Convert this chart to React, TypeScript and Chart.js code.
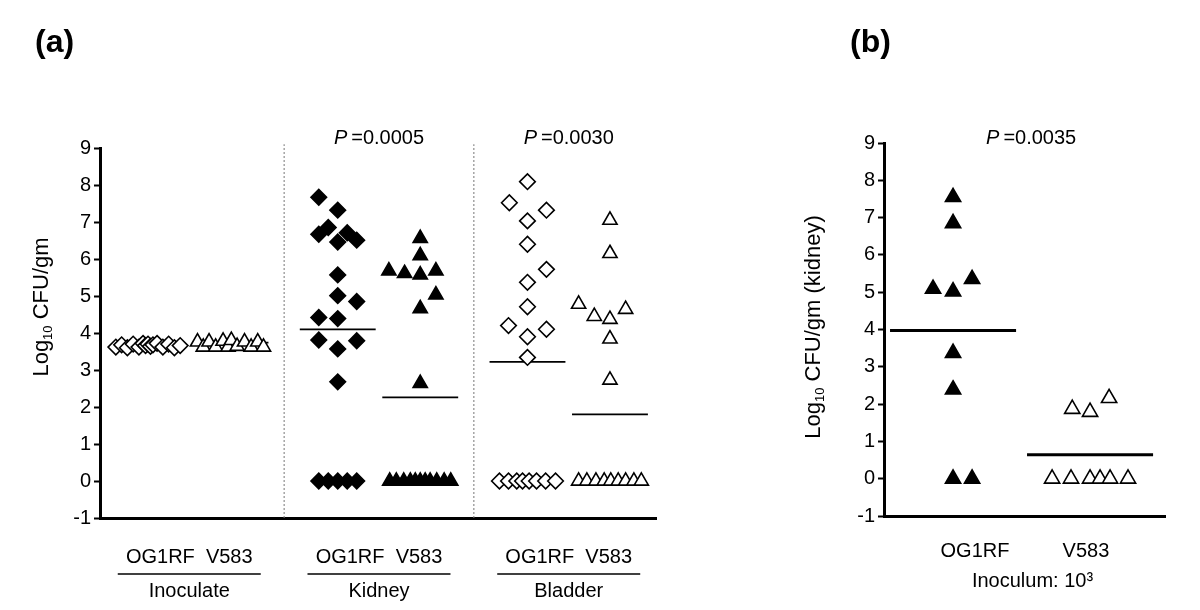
import React, { useEffect, useRef } from 'react';
import { Chart, registerables } from 'chart.js';

Chart.register(...registerables);

const FONT = '"Liberation Sans", Arial, Helvetica, sans-serif';

// ---------------- Panel (a) data ----------------
const groupNames = ['Inoculate', 'Kidney', 'Bladder'];
const strainNames = ['OG1RF', 'V583'];
const groupPValues = ['', '0.0005', '0.0030'];
const yTickValues = [-1, 0, 1, 2, 3, 4, 5, 6, 7, 8, 9];

const inoculateOG1RF = [3.62, 3.68, 3.6, 3.7, 3.62, 3.72, 3.66, 3.7, 3.64, 3.68, 3.72, 3.62, 3.7, 3.6, 3.66];
const inoculateOG1RFJitter = [-0.39, -0.32, -0.25, -0.18, -0.11, -0.06, -0.03, 0, 0.03, 0.06, 0.11, 0.18, 0.25, 0.32, 0.39];

const inoculateV583 = [3.76, 3.62, 3.76, 3.62, 3.78, 3.62, 3.8, 3.64, 3.76, 3.62, 3.76, 3.62];
const inoculateV583Jitter = [-0.4, -0.33, -0.26, -0.18, -0.09, -0.03, 0.01, 0.08, 0.17, 0.25, 0.33, 0.4];

const kidneyOG1RF = [7.67, 7.32, 6.85, 6.67, 6.71, 6.46, 6.51, 5.57, 5.01, 4.85, 4.42, 4.39, 3.81, 3.79, 3.57, 2.68, 0, 0, 0, 0, 0];
const kidneyOG1RFJitter = [-0.23, 0, -0.115, -0.23, 0.115, 0, 0.23, 0, 0, 0.23, -0.23, 0, -0.23, 0.23, 0, 0, -0.23, -0.115, 0, 0.115, 0.23];

const kidneyV583 = [6.56, 6.09, 5.68, 5.61, 5.57, 5.68, 5.03, 4.66, 2.64, 0, 0, 0, 0, 0, 0, 0, 0, 0, 0, 0];
const kidneyV583Jitter = [0, 0, -0.38, -0.19, 0, 0.19, 0.19, 0, 0, -0.37, -0.29, -0.2, -0.12, -0.06, 0, 0.06, 0.12, 0.2, 0.29, 0.37];

const bladderOG1RF = [8.09, 7.52, 7.32, 7.03, 6.4, 5.72, 5.37, 4.71, 4.2, 4.1, 3.9, 3.34, 0, 0, 0, 0, 0, 0, 0, 0];
const bladderOG1RFJitter = [0, -0.22, 0.23, 0, 0, 0.23, 0, 0, -0.23, 0.23, 0, 0, -0.34, -0.23, -0.13, -0.06, 0.02, 0.11, 0.22, 0.34];

const bladderV583 = [7.05, 6.15, 4.78, 4.45, 4.37, 4.64, 3.84, 2.73, 0, 0, 0, 0, 0, 0, 0, 0, 0];
const bladderV583Jitter = [0, 0, -0.38, -0.19, 0, 0.19, 0, 0, -0.38, -0.28, -0.17, -0.07, 0.01, 0.1, 0.19, 0.29, 0.38];

const mediansA = [3.64, 3.74, 4.1, 2.26, 3.22, 1.8];

// ---------------- Panel (b) data ----------------
const strainNamesB = ['OG1RF', 'V583'];
const pValueB = '0.0035';
const inoculumLabel = 'Inoculum: 10\u00B3';

const kidneyB_OG1RF = [7.55, 6.85, 5.09, 5.02, 5.35, 3.37, 2.39, 0, 0];
const kidneyB_OG1RFJitter = [0, 0, -0.146, 0, 0.139, 0, 0, 0, 0.139];

const kidneyB_V583 = [1.87, 1.79, 2.16, 0, 0, 0, 0, 0, 0];
const kidneyB_V583Jitter = [-0.13, 0, 0.139, -0.277, -0.139, 0, 0.073, 0.146, 0.277];

const mediansB = [3.97, 0.64];

// ---------------- layout constants ----------------
const COLS_A = [0, 1, 2.3, 3.3, 4.6, 5.6];
const COLS_B = [0, 1];
const MEDIAN_HALF = 0.46;

type Mark = { filled: boolean; shape: 'rectRot' | 'triangle'; radius: number };

function pointsDataset(values: number[], jitter: number[], col: number, mark: Mark) {
  return {
    type: 'scatter' as const,
    data: values.map((v, i) => ({ x: col + jitter[i], y: v })),
    pointStyle: mark.shape,
    pointRadius: mark.radius,
    pointHoverRadius: mark.radius,
    pointBackgroundColor: mark.filled ? '#000' : '#fff',
    pointBorderColor: '#000',
    pointBorderWidth: 1.6,
    showLine: false,
    order: 0,
  };
}

function medianDataset(col: number, median: number, width: number) {
  return {
    type: 'line' as const,
    data: [
      { x: col - MEDIAN_HALF, y: median },
      { x: col + MEDIAN_HALF, y: median },
    ],
    borderColor: '#000',
    borderWidth: width,
    pointRadius: 0,
    showLine: true,
    order: 1,
  };
}

function separatorDataset(x: number) {
  return {
    type: 'line' as const,
    data: [
      { x, y: -1 },
      { x, y: 9.1 },
    ],
    borderColor: '#777',
    borderWidth: 1,
    borderDash: [2, 2],
    pointRadius: 0,
    showLine: true,
    clip: false as any,
    order: 2,
  };
}

function drawP(ctx: CanvasRenderingContext2D, cx: number, baseline: number, value: string, size: number) {
  ctx.save();
  ctx.fillStyle = '#000';
  ctx.textBaseline = 'alphabetic';
  ctx.textAlign = 'left';
  ctx.font = `italic ${size}px ${FONT}`;
  const pw = ctx.measureText('P').width;
  ctx.font = `${size}px ${FONT}`;
  const rest = '=' + value;
  const rw = ctx.measureText(rest).width;
  const gap = size * 0.2;
  let x = cx - (pw + gap + rw) / 2;
  ctx.font = `italic ${size}px ${FONT}`;
  ctx.fillText('P', x, baseline);
  ctx.font = `${size}px ${FONT}`;
  ctx.fillText(rest, x + pw + gap, baseline);
  ctx.restore();
}

function drawLogLabel(ctx: CanvasRenderingContext2D, cx: number, cy: number, suffix: string, size: number) {
  ctx.save();
  ctx.translate(cx, cy);
  ctx.rotate(-Math.PI / 2);
  ctx.fillStyle = '#000';
  ctx.textAlign = 'left';
  ctx.textBaseline = 'alphabetic';
  const main = `${size}px ${FONT}`;
  const sub = `${Math.round(size * 0.6)}px ${FONT}`;
  ctx.font = main;
  const w1 = ctx.measureText('Log').width;
  ctx.font = sub;
  const w2 = ctx.measureText('10').width;
  ctx.font = main;
  const w3 = ctx.measureText(' ' + suffix).width;
  let x = -(w1 + w2 + w3) / 2;
  const base = size * 0.3;
  ctx.font = main;
  ctx.fillText('Log', x, base);
  x += w1;
  ctx.font = sub;
  ctx.fillText('10', x, base + size * 0.18);
  x += w2;
  ctx.font = main;
  ctx.fillText(' ' + suffix, x, base);
  ctx.restore();
}

function drawText(ctx: CanvasRenderingContext2D, text: string, x: number, y: number, font: string, align: CanvasTextAlign = 'center') {
  ctx.save();
  ctx.fillStyle = '#000';
  ctx.font = font;
  ctx.textAlign = align;
  ctx.textBaseline = 'alphabetic';
  ctx.fillText(text, x, y);
  ctx.restore();
}

function yScaleOptions(width: number, fontSize: number) {
  return {
    type: 'linear' as const,
    min: -1,
    max: 9,
    afterFit: (s: any) => {
      s.width = width;
    },
    afterBuildTicks: (s: any) => {
      s.ticks = yTickValues.map((v) => ({ value: v }));
    },
    ticks: {
      stepSize: 1,
      autoSkip: false,
      padding: 3,
      color: '#000',
      font: { family: FONT, size: fontSize },
      callback: (v: any) => String(v),
    },
    grid: {
      display: true,
      drawOnChartArea: false,
      drawTicks: true,
      tickLength: 6,
      tickColor: '#000',
      tickWidth: 2,
    },
    border: { display: true, color: '#000', width: 3 },
  };
}

function xScaleOptions(min: number, max: number) {
  return {
    type: 'linear' as const,
    min,
    max,
    afterFit: (s: any) => {
      s.height = 0;
    },
    ticks: { display: false },
    grid: { display: false, drawTicks: false },
    border: { display: true, color: '#000', width: 3 },
  };
}

function PanelA() {
  const ref = useRef<HTMLCanvasElement>(null);
  useEffect(() => {
    const openDiamond: Mark = { filled: false, shape: 'rectRot', radius: 7.8 };
    const filledDiamond: Mark = { filled: true, shape: 'rectRot', radius: 7.8 };
    const openTri: Mark = { filled: false, shape: 'triangle', radius: 8.2 };
    const filledTri: Mark = { filled: true, shape: 'triangle', radius: 8.2 };

    const datasets: any[] = [
      pointsDataset(inoculateOG1RF, inoculateOG1RFJitter, COLS_A[0], openDiamond),
      pointsDataset(inoculateV583, inoculateV583Jitter, COLS_A[1], openTri),
      pointsDataset(kidneyOG1RF, kidneyOG1RFJitter, COLS_A[2], filledDiamond),
      pointsDataset(kidneyV583, kidneyV583Jitter, COLS_A[3], filledTri),
      pointsDataset(bladderOG1RF, bladderOG1RFJitter, COLS_A[4], openDiamond),
      pointsDataset(bladderV583, bladderV583Jitter, COLS_A[5], openTri),
      ...mediansA.map((m, i) => medianDataset(COLS_A[i], m, 1.8)),
      separatorDataset((COLS_A[1] + COLS_A[2]) / 2),
      separatorDataset((COLS_A[3] + COLS_A[4]) / 2),
    ];

    const textPlugin = {
      id: 'panelAText',
      afterDraw(chart: any) {
        const ctx = chart.ctx as CanvasRenderingContext2D;
        const xs = chart.scales.x;
        drawText(ctx, '(a)', 35, 52, `bold 32px ${FONT}`, 'left');
        groupNames.forEach((g, gi) => {
          const cx = xs.getPixelForValue((COLS_A[2 * gi] + COLS_A[2 * gi + 1]) / 2);
          if (groupPValues[gi]) drawP(ctx, cx, 144, groupPValues[gi], 20);
          drawText(ctx, strainNames.join('  '), cx, 563, `20px ${FONT}`);
          ctx.save();
          ctx.strokeStyle = '#000';
          ctx.lineWidth = 1.5;
          ctx.beginPath();
          ctx.moveTo(cx - 71.5, 574);
          ctx.lineTo(cx + 71.5, 574);
          ctx.stroke();
          ctx.restore();
          drawText(ctx, g, cx, 597, `20px ${FONT}`);
        });
        drawLogLabel(ctx, 41, 307, 'CFU/gm', 22);
      },
    };

    const chart = new Chart(ref.current!, {
      type: 'scatter',
      data: { datasets },
      options: {
        responsive: false,
        animation: false,
        devicePixelRatio: 1,
        layout: { padding: { top: 148, bottom: 92, left: 0, right: 44 } },
        plugins: { legend: { display: false }, tooltip: { enabled: false } },
        scales: {
          x: xScaleOptions(-0.582, 6.158),
          y: yScaleOptions(100, 20),
        },
      } as any,
      plugins: [textPlugin],
    });
    return () => chart.destroy();
  }, []);
  return <canvas ref={ref} width={700} height={610} style={{ position: 'absolute', left: 0, top: 0, display: 'block' }} />;
}

function PanelB() {
  const ref = useRef<HTMLCanvasElement>(null);
  useEffect(() => {
    const filledTri: Mark = { filled: true, shape: 'triangle', radius: 8.8 };
    const openTri: Mark = { filled: false, shape: 'triangle', radius: 8.8 };
    const datasets: any[] = [
      pointsDataset(kidneyB_OG1RF, kidneyB_OG1RFJitter, COLS_B[0], filledTri),
      pointsDataset(kidneyB_V583, kidneyB_V583Jitter, COLS_B[1], openTri),
      ...mediansB.map((m, i) => medianDataset(COLS_B[i], m, 3)),
    ];

    const labelPos = [0.16, 0.97];
    const textPlugin = {
      id: 'panelBText',
      afterDraw(chart: any) {
        const ctx = chart.ctx as CanvasRenderingContext2D;
        const xs = chart.scales.x;
        drawText(ctx, '(b)', 150, 52, `bold 32px ${FONT}`, 'left');
        drawP(ctx, xs.getPixelForValue(0.57), 144, pValueB, 20);
        strainNamesB.forEach((s, i) => {
          drawText(ctx, s, xs.getPixelForValue(labelPos[i]), 557, `20px ${FONT}`);
        });
        drawText(ctx, inoculumLabel, xs.getPixelForValue(0.58), 587, `20px ${FONT}`);
        drawLogLabel(ctx, 113, 327, 'CFU/gm (kidney)', 22);
      },
    };

    const chart = new Chart(ref.current!, {
      type: 'scatter',
      data: { datasets },
      options: {
        responsive: false,
        animation: false,
        devicePixelRatio: 1,
        layout: { padding: { top: 143, bottom: 94, left: 0, right: 35 } },
        plugins: { legend: { display: false }, tooltip: { enabled: false } },
        scales: {
          x: xScaleOptions(-0.504, 1.547),
          y: yScaleOptions(184, 20),
        },
      } as any,
      plugins: [textPlugin],
    });
    return () => chart.destroy();
  }, []);
  return <canvas ref={ref} width={500} height={610} style={{ position: 'absolute', left: 700, top: 0, display: 'block' }} />;
}

export default function App() {
  return (
    <div style={{ position: 'absolute', left: 0, top: 0, width: 1200, height: 610, background: '#fff', overflow: 'hidden' }}>
      <PanelA />
      <PanelB />
    </div>
  );
}
